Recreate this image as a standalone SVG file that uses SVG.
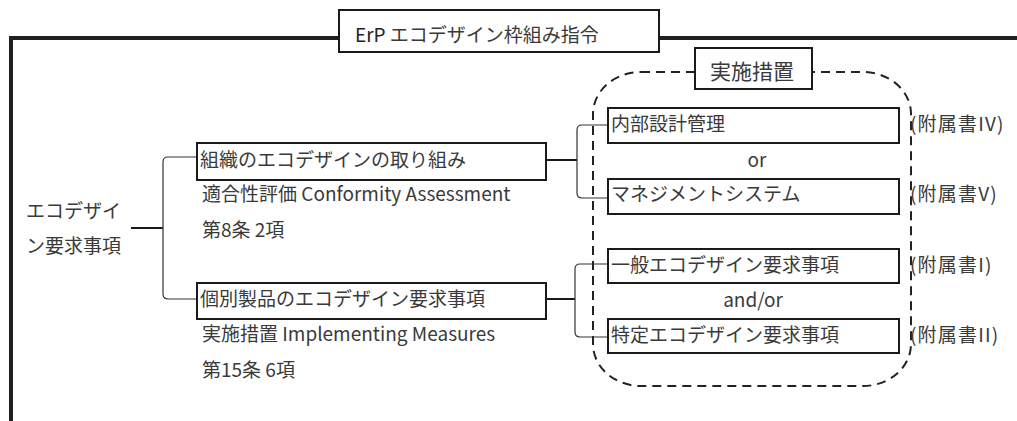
<svg xmlns="http://www.w3.org/2000/svg" width="1017" height="421" viewBox="0 0 1017 421">
<style>
text{font-family:"Noto Sans CJK JP","Noto Sans",sans-serif;fill:#3a3a3a;font-size:19px}
.box{fill:#fff;stroke:#1a1a1a;stroke-width:2}
.thin{fill:none;stroke:#333;stroke-width:1.2}
.stub{fill:none;stroke:#1a1a1a;stroke-width:2}
.ann{font-size:19px;letter-spacing:1.2px}
.big{font-size:21px}
</style>
<rect width="1017" height="421" fill="#fff"/>
<g id="frame">
<path d="M11 421 V38 H1017" fill="none" stroke="#231f20" stroke-width="4"/>
</g>
<g id="title">
<rect class="box" x="339" y="10" width="320" height="42"/>
<text x="355" y="42" font-size="20"><tspan fill="#222">ErP</tspan> エコデザイン枠組み指令</text>
</g>
<g id="group-measures">
<rect x="593" y="72" width="318" height="314" rx="48" ry="42" fill="none" stroke="#222" stroke-width="2" stroke-dasharray="9 6"/>
<rect class="box" x="695" y="48" width="117" height="41" stroke-width="1.5"/>
<text x="710" y="79" class="big">実施措置</text>
</g>
<g id="connectors">
<path class="stub" d="M131 228 H163"/>
<path class="thin" d="M197 157 H168 Q163 157 163 162 V294 Q163 299 168 299 H197"/>
<path class="stub" d="M546 160 H577"/>
<path class="thin" d="M608 125 H582 Q577 125 577 130 V193 Q577 198 582 198 H608"/>
<path class="stub" d="M546 299 H575"/>
<path class="thin" d="M608 264 H580 Q575 264 575 269 V332 Q575 337 580 337 H608"/>
</g>
<g id="root">
<text x="26" y="218" font-size="18">エコデザイ</text>
<text x="26" y="253" font-size="18">ン要求事項</text>
</g>
<g id="org">
<rect class="box" x="197" y="143" width="349" height="37"/>
<text x="200" y="167">組織のエコデザインの取り組み</text>
<text x="202" y="201">適合性評価 Conformity Assessment</text>
<text x="202" y="237">第8条 2項</text>
</g>
<g id="product">
<rect class="box" x="197" y="283" width="349" height="36"/>
<text x="200" y="306">個別製品のエコデザイン要求事項</text>
<text x="202" y="341">実施措置 Implementing Measures</text>
<text x="202" y="377">第15条 6項</text>
</g>
<g id="internal">
<rect class="box" x="608" y="108" width="291" height="35"/>
<text x="611" y="131">内部設計管理</text>
<text x="910" y="131" class="ann">(附属書IV)</text>
</g>
<text x="757" y="167" text-anchor="middle">or</text>
<g id="mgmt">
<rect class="box" x="608" y="179" width="291" height="35"/>
<text x="611" y="201">マネジメントシステム</text>
<text x="910" y="201" class="ann">(附属書V)</text>
</g>
<g id="general">
<rect class="box" x="608" y="249" width="291" height="34"/>
<text x="611" y="272">一般エコデザイン要求事項</text>
<text x="910" y="272" class="ann">(附属書I)</text>
</g>
<text x="753" y="307" text-anchor="middle">and/or</text>
<g id="specific">
<rect class="box" x="608" y="319" width="291" height="34"/>
<text x="611" y="342">特定エコデザイン要求事項</text>
<text x="910" y="342" class="ann">(附属書II)</text>
</g>
</svg>
